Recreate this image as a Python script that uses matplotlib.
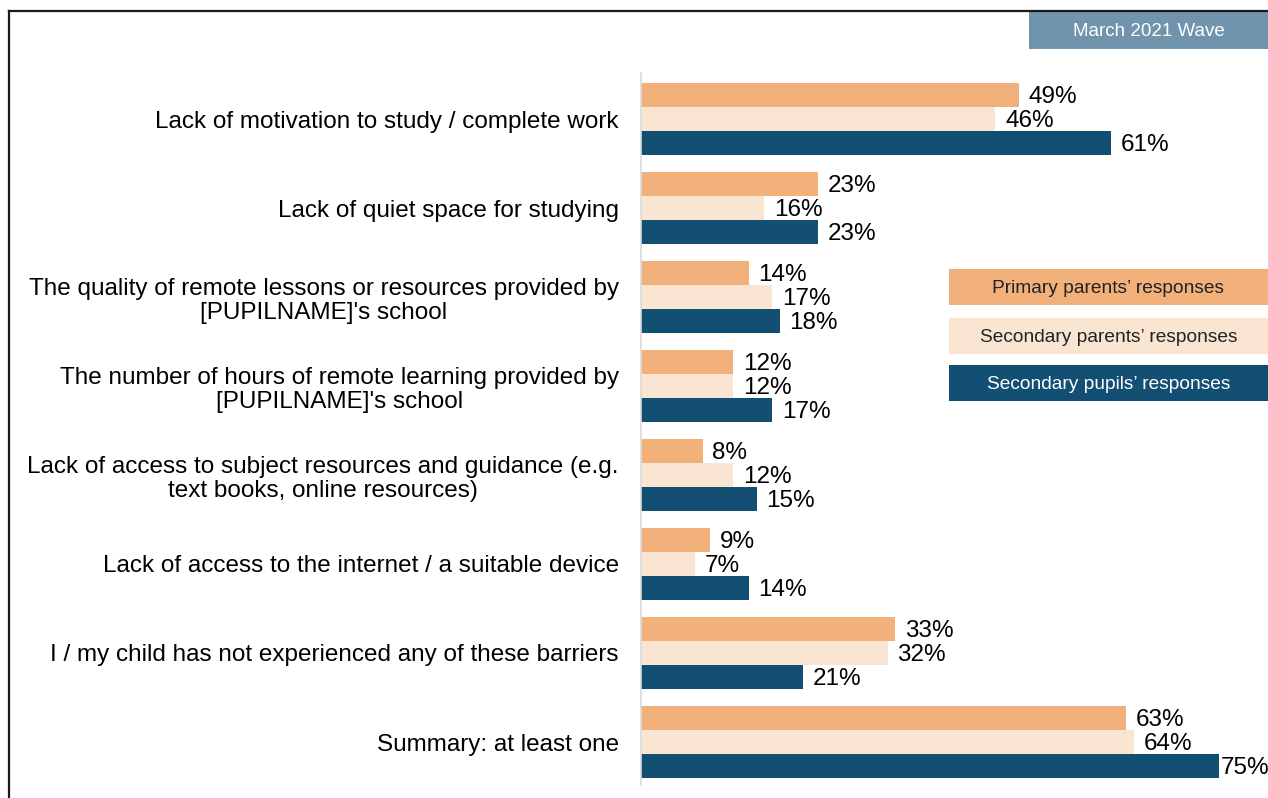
import matplotlib.pyplot as plt
from matplotlib.patches import Rectangle
from matplotlib.lines import Line2D
import numpy as np

plt.rcParams['font.family'] = ['Liberation Sans', 'DejaVu Sans']

categories = [
    "Lack of motivation to study / complete work",
    "Lack of quiet space for studying",
    "The quality of remote lessons or resources provided by\n[PUPILNAME]'s school",
    "The number of hours of remote learning provided by\n[PUPILNAME]'s school",
    "Lack of access to subject resources and guidance (e.g.\ntext books, online resources)",
    "Lack of access to the internet / a suitable device",
    "I / my child has not experienced any of these barriers",
    "Summary: at least one",
]
primary_parents = [49, 23, 14, 12, 8, 9, 33, 63]
secondary_parents = [46, 16, 17, 12, 12, 7, 32, 64]
secondary_pupils = [61, 23, 18, 17, 15, 14, 21, 75]

series_names = ["Primary parents\u2019 responses",
                "Secondary parents\u2019 responses",
                "Secondary pupils\u2019 responses"]
colors = ["#F2B07A", "#FAE5D3", "#124F73"]
text_colors = ["#222222", "#222222", "white"]

W, H = 1268, 798
fig = plt.figure(figsize=(W / 100, H / 100), dpi=100)

# axes placed in pixel terms: zero line at x=641, plot spans y 73..785
ax = fig.add_axes([641 / W, 1 - 785 / H, (W - 641) / W, (785 - 73) / H])
xmax = (W - 641) / 7.705

bar_h = 24 / 89
y = np.arange(len(categories))
for k, vals in enumerate([primary_parents, secondary_parents, secondary_pupils]):
    pos = y + (k - 1) * bar_h
    ax.barh(pos, vals, height=bar_h, color=colors[k], edgecolor='none')
    for p, v in zip(pos, vals):
        # label squeezed against the bar when it runs into the edge
        off = 1.5 if v > 0.9 * xmax else 7
        ax.annotate(f"{v}%", (v, p), xytext=(off, -1.5), textcoords='offset points',
                    ha='left', va='center', fontsize=17.5, color='black')

ax.set_xlim(0, xmax)
ax.set_ylim(len(categories) - 1 + (785 - 742) / 89, -(119 - 73) / 89)
ax.set_yticks(y)
ax.set_yticklabels(categories, fontsize=17.5, multialignment='center', linespacing=1.15)
ax.tick_params(axis='y', length=0, pad=16)
ax.set_xticks([])
for s in ['top', 'right', 'bottom']:
    ax.spines[s].set_visible(False)
ax.spines['left'].set_color('#d9d9d9')
ax.spines['left'].set_linewidth(1.2)

# outer frame (top and left edges)
fig.add_artist(Line2D([9 / W, 1], [1 - 11 / H, 1 - 11 / H], color='#1a1a1a', lw=1.6,
                      transform=fig.transFigure))
fig.add_artist(Line2D([9 / W, 9 / W], [0, 1 - 11 / H], color='#1a1a1a', lw=1.6,
                      transform=fig.transFigure))

# wave badge
fig.add_artist(Rectangle((1029 / W, 1 - 49 / H), (W - 1029) / W, 37 / H,
                         transform=fig.transFigure, color='#7094AC', lw=0))
fig.text((1029 + W) / 2 / W, 1 - 32 / H, "March 2021 Wave", ha='center', va='center',
         fontsize=13.5, color='white')

# legend boxes
legend_tops = [269, 318, 365]
for name, c, tc, top in zip(series_names, colors, text_colors, legend_tops):
    fig.add_artist(Rectangle((949 / W, 1 - (top + 36) / H), (W - 949) / W, 36 / H,
                             transform=fig.transFigure, color=c, lw=0))
    fig.text((949 + W) / 2 / W, 1 - (top + 20) / H, name, ha='center', va='center',
             fontsize=13.8, color=tc)

fig.savefig('out.png', dpi=100)
